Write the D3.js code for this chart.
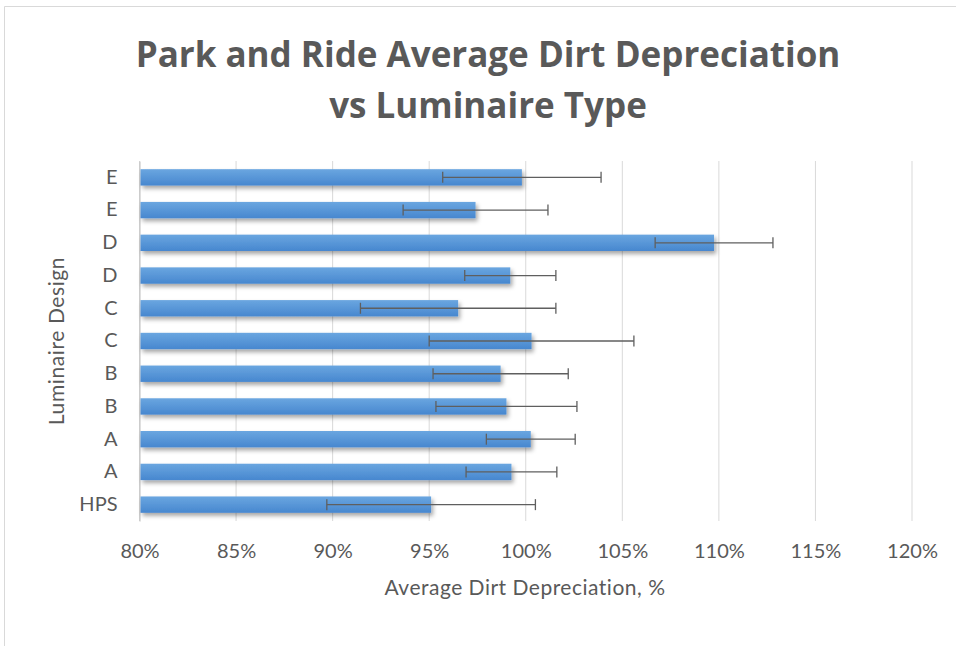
<!DOCTYPE html>
<html><head><meta charset="utf-8">
<script src="https://cdn.jsdelivr.net/npm/d3@7"></script>
<style>body{margin:0;background:#fff}svg{display:block}</style>
</head><body>
<script>
const categories = ["HPS","A","A","B","B","C","C","D","D","E","E"];
const values = [95.1, 99.26, 100.26, 99.0, 98.7, 100.3, 96.5, 99.2, 109.75, 97.4, 99.8];
const errors = [5.4, 2.35, 2.3, 3.65, 3.5, 5.3, 5.06, 2.36, 3.05, 3.75, 4.1];
const xTicks = [80,85,90,95,100,105,110,115,120];
const titleLines = ["Park and Ride Average Dirt Depreciation","vs Luminaire Type"];
const xTitle = "Average Dirt Depreciation, %";
const yTitle = "Luminaire Design";

const W=956,H=646;
const svg=d3.select("body").append("svg").attr("width",W).attr("height",H);
const defs=svg.append("defs");
const g1=defs.append("linearGradient").attr("id","bg").attr("x1",0).attr("y1",0).attr("x2",0).attr("y2",1);
g1.append("stop").attr("offset","0%").attr("stop-color","#6aa6e0");
g1.append("stop").attr("offset","100%").attr("stop-color","#4787cf");
const f=defs.append("filter").attr("id","sh").attr("x","-5%").attr("y","-50%").attr("width","115%").attr("height","250%");
f.append("feDropShadow").attr("dx",2).attr("dy",3).attr("stdDeviation",2).attr("flood-color","#000").attr("flood-opacity",0.35);

// frame
svg.append("path").attr("d","M4.5,646 L4.5,6.5 L956,6.5").attr("fill","none").attr("stroke","#d9d9d9").attr("stroke-width",1);

const x=d3.scaleLinear().domain([80,120]).range([139.5,912]);
const y=d3.scaleBand().domain(d3.range(categories.length)).range([521,161]).paddingInner(0.5).paddingOuter(0.25);
const font="Lato, 'Open Sans', sans-serif";
const grey="#595959";

// grid
svg.append("g").selectAll("line").data(xTicks).join("line")
  .attr("x1",d=>x(d)).attr("x2",d=>x(d)).attr("y1",161).attr("y2",521)
  .attr("stroke","#d9d9d9").attr("stroke-width",1);

// axis
const xa=svg.append("g").attr("transform","translate(0,521)")
  .call(d3.axisBottom(x).tickValues(xTicks).tickSize(0).tickPadding(23).tickFormat(d=>d+"%"));
xa.select(".domain").remove();
xa.selectAll("text").attr("font-family",font).attr("font-size",20).attr("fill",grey);

const ya=svg.append("g").attr("transform","translate(139.5,0)")
  .call(d3.axisLeft(y).tickSize(0).tickPadding(22).tickFormat(i=>categories[i]));
ya.select(".domain").attr("stroke","#bfbfbf");
ya.selectAll("text").attr("font-family",font).attr("font-size",20).attr("fill",grey);

// bars
svg.append("g").selectAll("rect").data(values).join("rect")
  .attr("x",x(80)+1).attr("y",(d,i)=>y(i)).attr("height",y.bandwidth())
  .attr("width",d=>x(d)-x(80)-1).attr("fill","url(#bg)").attr("filter","url(#sh)");

// error bars
const eg=svg.append("g").attr("stroke","#5f5f5f").attr("stroke-width",1.3);
values.forEach((v,i)=>{
  const cy=y(i)+y.bandwidth()/2;
  eg.append("line").attr("x1",x(v-errors[i])).attr("x2",x(v+errors[i])).attr("y1",cy).attr("y2",cy);
  [v-errors[i],v+errors[i]].forEach(e=>eg.append("line").attr("x1",x(e)).attr("x2",x(e)).attr("y1",cy-5.5).attr("y2",cy+5.5));
});

// titles
svg.append("g").selectAll("text").data(titleLines).join("text")
  .attr("x",488).attr("y",(d,i)=>67+i*51).attr("text-anchor","middle")
  .attr("font-family","'Open Sans', sans-serif").attr("font-weight","bold").attr("font-size",35).attr("fill",grey).text(d=>d);
svg.append("text").attr("x",525).attr("y",595).attr("text-anchor","middle")
  .attr("font-family",font).attr("font-size",21).attr("letter-spacing",0.5).attr("fill",grey).text(xTitle);
svg.append("text").attr("transform","translate(64,341) rotate(-90)").attr("text-anchor","middle")
  .attr("font-family",font).attr("font-size",21).attr("letter-spacing",0.6).attr("fill",grey).text(yTitle);
</script>
</body></html>
